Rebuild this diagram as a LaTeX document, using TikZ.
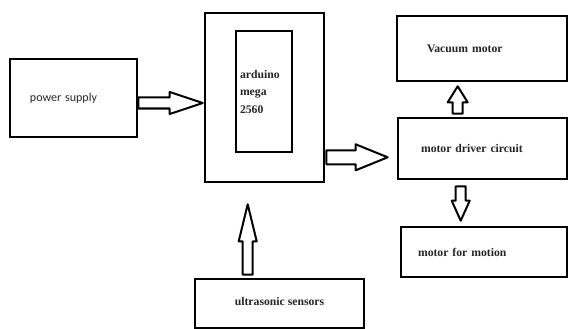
\documentclass[tikz,border=0pt]{standalone}
\usepackage{fontspec}
\setmainfont{Liberation Serif}
\newfontfamily\psfont{Carlito}
\usetikzlibrary{calc}

% hollow block arrow: from, to, shaft half width, head half width, head length
\newcommand{\blockarrow}[5]{%
  \coordinate (headbase) at ($(#2)!#5!(#1)$);
  \draw[hollow] ($(#1)!#3!90:(#2)$) -- ($(headbase)!#3!90:(#2)$) -- ($(headbase)!#4!90:(#2)$) -- (#2)
    -- ($(headbase)!#4!-90:(#2)$) -- ($(headbase)!#3!-90:(#2)$) -- ($(#1)!#3!-90:(#2)$) -- cycle;
}

\begin{document}
\begin{tikzpicture}[
  x=1pt, y=-1pt,
  box/.style={rectangle, draw=black, line width=2.6pt, inner ysep=0pt, align=left,
    font=\fontsize{11.7}{17.5}\selectfont\bfseries, text=black!85},
  hollow/.style={draw=black, line width=2pt, fill=white, line join=round}
]
  \useasboundingbox[fill=white] (0,0) rectangle (568,329);

  % blocks
  \node[box, minimum width=127pt, minimum height=78pt, inner xsep=20pt, text width=87pt,
    font=\psfont\fontsize{12}{14}\selectfont] (ps) at (73.5,98) {power supply};
  \node[box, minimum width=119pt, minimum height=169pt] (ard) at (264.5,97.5) {};
  \node[box, minimum width=56pt, minimum height=121pt, inner xsep=4pt, text width=48pt]
    (chip) at (264,91.5) {arduino\\mega\\2560};
  \node[box, minimum width=170pt, minimum height=65pt, inner xsep=30pt, text width=110pt]
    (vac) at (482,48.5) {Vacuum motor};
  \node[box, minimum width=169pt, minimum height=61pt, inner xsep=23pt, text width=123pt]
    (drv) at (482.5,148.5) {motor driver circuit};
  \node[box, minimum width=166pt, minimum height=50pt, inner xsep=17pt, text width=132pt]
    (mot) at (484,252) {motor for motion};
  \node[box, minimum width=169pt, minimum height=49pt, align=center] (ult) at (279.5,303.5)
    {\raisebox{4pt}{ultrasonic sensors}};

  % arrow ends
  \coordinate (a1s) at ($(ps.east)+(0,5)$);
  \coordinate (a1e) at ($(a1s -| ard.west)+(-1,0)$);
  \coordinate (a2s) at ($(ard.south east)+(1,-26)$);
  \coordinate (a2e) at ($(a2s -| drv.west)+(-9,0)$);
  \coordinate (a3s) at ($(drv.north west)+(61,-3)$);
  \coordinate (a3e) at ($(a3s |- vac.south)+(0,4)$);
  \coordinate (a4s) at ($(drv.south west)+(64,6)$);
  \coordinate (a4e) at ($(a4s |- mot.north)+(0,-5)$);
  \coordinate (a5s) at ($(ult.north west)+(54,-3)$);
  \coordinate (a5e) at ($(a5s |- ard.south)+(0,21)$);

  % arrows
  \blockarrow{a1s}{a1e}{5.5pt}{11pt}{33pt}
  \blockarrow{a2s}{a2e}{7pt}{13pt}{32pt}
  \blockarrow{a3s}{a3e}{5pt}{10pt}{16pt}
  \blockarrow{a4s}{a4e}{5pt}{9pt}{20pt}
  \blockarrow{a5s}{a5e}{5pt}{9pt}{37pt}
\end{tikzpicture}
\end{document}
